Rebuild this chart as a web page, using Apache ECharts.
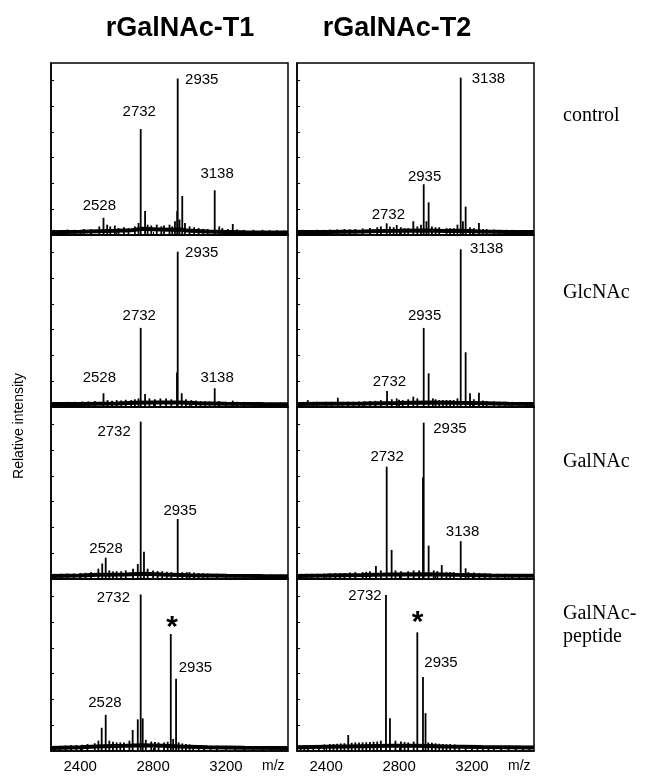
<!DOCTYPE html>
<html><head><meta charset="utf-8">
<script src="https://cdn.jsdelivr.net/npm/echarts@6/dist/echarts.min.js"></script>
<style>html,body{margin:0;padding:0;background:#fff}#c{width:648px;height:776px}</style>
</head><body><div id="c"></div>
<script>
// ---------- DATA ----------
const enzymes = ['rGalNAc-T1', 'rGalNAc-T2'];
const acceptors = ['control', 'GlcNAc', 'GalNAc', 'GalNAc-\npeptide'];
const xTicks = [2400, 2600, 2800, 3000, 3200, 3400];
const xTickLabels = [2400, 2800, 3200];
const xUnit = 'm/z';
const yTitle = 'Relative intensity';
const yTicks = [15, 30, 45, 60, 75, 90];

// Peaks [m/z, relative intensity] (panel order: row by row, T1 then T2)
const peaksT1control = [[2528,10],[2548,6],[2565,5],[2590,5.5],[2732,61.6],[2756,14],[2932,14],[2935,91],[2960,22.7],[3138,26],[3163,5],[3237,6.4]];
const noiseT1control = [[2255,3],[2290,2.8],[2330,3.2],[2370,3],[2420,3.5],[2460,3.4],[2505,5],[2610,4],[2640,4.5],[2665,4],[2700,5],[2720,7],[2770,6],[2790,5.5],[2820,6],[2845,5],[2860,5.5],[2890,6],[2905,5],[2920,8],[2945,9],[2975,7],[3000,5],[3025,4.5],[3050,4],[3075,3.6],[3100,3.5],[3180,4],[3210,3.5],[3260,3.2],[3300,3],[3350,3],[3400,3],[3440,2.8],[3480,2.8],[3520,2.6]];
const baseT1control = [[2240,1.6],[2300,1.8],[2400,1.9],[2500,2.2],[2600,2.4],[2680,2.8],[2740,3.6],[2800,3.4],[2880,3.0],[2950,3.2],[3000,2.4],[3100,2.0],[3200,1.8],[3300,1.6],[3400,1.5],[3540,1.4]];

const peaksT2control = [[2732,6.8],[2787,5.8],[2878,8],[2935,29.5],[2962,19],[3138,91.5],[3165,16.5],[3189,4.5],[3238,7]];
const noiseT2control = [[2270,3],[2310,2.8],[2350,3],[2385,3],[2420,3.2],[2460,3.2],[2500,3.5],[2530,3.3],[2560,3.5],[2600,3.8],[2640,4],[2680,4.5],[2700,5],[2750,5],[2770,4.5],[2810,4.5],[2830,4],[2850,4],[2900,5],[2920,6],[2950,8],[2980,5],[3000,4.5],[3020,4.5],[3060,4],[3080,4],[3100,4],[3120,6],[3150,8],[3210,4],[3260,3.5],[3280,3.5],[3320,3.2],[3350,3],[3390,3],[3420,3],[3460,2.8],[3500,2.8]];
const baseT2control = [[2240,1.7],[2400,1.8],[2600,2.0],[2700,2.3],[2800,2.4],[2950,2.6],[3050,2.3],[3150,2.5],[3250,2.1],[3400,1.8],[3540,1.7]];

const peaksT1GlcNAc = [[2528,8],[2732,46],[2756,7.6],[2871,5],[2931,20],[2935,90.3],[2957,8],[3138,10.9],[3162,3.5],[3237,3.7]];
const noiseT1GlcNAc = [[2260,2.8],[2295,2.8],[2330,3],[2370,3],[2410,3.2],[2445,3.2],[2480,3.5],[2550,4],[2575,3.6],[2600,4],[2625,3.8],[2650,4.2],[2680,4],[2700,4.5],[2720,5],[2780,5],[2810,4.5],[2840,5],[2900,4.5],[2980,4.5],[3010,4],[3035,3.8],[3060,3.5],[3085,3.4],[3110,3.2],[3200,3],[3260,3],[3300,3],[3350,2.8],[3400,2.8],[3450,2.6],[3500,2.6]];
const baseT1GlcNAc = [[2240,1.7],[2400,1.8],[2600,2.1],[2700,2.5],[2800,2.6],[2950,2.6],[3050,2.2],[3200,1.9],[3400,1.7],[3540,1.6]];

const peaksT2GlcNAc = [[2299,4],[2464,5.4],[2734,9.3],[2787,5],[2878,6],[2935,46],[2962,19.6],[3138,91.7],[3165,31.8],[3189,8],[3238,8.3]];
const noiseT2GlcNAc = [[2330,2.8],[2350,3],[2400,3],[2430,3],[2490,3],[2520,3],[2550,3],[2580,3.2],[2610,3.3],[2640,3.5],[2670,3.6],[2700,4],[2760,4.5],[2800,4.2],[2820,4],[2850,4.5],[2900,5],[2985,5],[3000,4.5],[3020,4],[3040,4],[3060,4],[3080,4],[3100,4],[3120,5],[3210,4.5],[3260,3.8],[3280,3.5],[3320,3.2],[3350,3],[3380,3],[3420,3],[3460,2.9],[3500,2.8]];
const baseT2GlcNAc = [[2240,1.8],[2400,1.9],[2600,2.0],[2800,2.3],[2950,2.6],[3100,2.4],[3200,2.3],[3400,1.9],[3540,1.8]];

const peaksT1GalNAc = [[2521,9],[2540,12.4],[2716,8.7],[2732,91.5],[2750,15.9],[2935,34.9],[3024,3.8]];
const noiseT1GalNAc = [[2260,3],[2295,3],[2330,3.2],[2365,3.2],[2400,3.5],[2430,3.6],[2460,4],[2500,6],[2560,5],[2580,4.4],[2600,4.5],[2625,4.5],[2650,5],[2690,6],[2770,6],[2800,5],[2825,4.6],[2850,4.5],[2875,4.2],[2900,4],[2960,4],[2985,4],[3000,4],[3050,3.5],[3075,3.4],[3100,3.2],[3150,3.1],[3200,3],[3250,2.9],[3300,2.8],[3350,2.7],[3400,2.6],[3450,2.6],[3500,2.5]];
const baseT1GalNAc = [[2240,1.7],[2400,2.0],[2500,2.4],[2650,2.6],[2740,3.0],[2850,2.6],[3000,2.2],[3200,1.9],[3400,1.7],[3540,1.6]];

const peaksT2GalNAc = [[2673,7.6],[2732,65.3],[2759,16.9],[2931,59],[2935,90.9],[2962,19.4],[3034,8.1],[3138,22],[3165,6.2]];
const noiseT2GalNAc = [[2260,3],[2290,3],[2320,3],[2355,3.1],[2390,3.2],[2420,3.3],[2450,3.5],[2475,3.4],[2500,3.5],[2530,3.8],[2560,4],[2600,4],[2620,4.2],[2640,4.5],[2700,5],[2780,5],[2810,4.5],[2850,4.5],[2880,5],[2910,5],[2990,5],[3010,4.6],[3060,4],[3080,4],[3100,4],[3180,4],[3210,3.8],[3240,3.5],[3270,3.4],[3300,3.2],[3340,3.1],[3380,3],[3420,2.9],[3460,2.8],[3500,2.8]];
const baseT2GalNAc = [[2240,1.8],[2400,2.0],[2600,2.3],[2750,2.6],[2950,2.7],[3100,2.4],[3300,2.1],[3540,1.9]];

const peaksT1peptide = [[2518,13.5],[2540,21],[2688,12.2],[2716,18.4],[2732,91],[2743,19],[2897,68],[2926,42]];
const noiseT1peptide = [[2260,3],[2290,3],[2320,3.2],[2350,3.3],[2380,3.5],[2410,3.6],[2440,4],[2480,4.5],[2500,6],[2560,6],[2580,5.4],[2600,5],[2620,5],[2640,5],[2670,6],[2760,6.5],[2790,5.5],[2810,5.2],[2830,5],[2860,5],[2880,5.4],[2910,7],[2940,5],[2960,4.4],[2980,4],[3000,3.8],[3020,3.5],[3050,3.4],[3080,3.2],[3115,3.1],[3150,3],[3200,2.9],[3250,2.8],[3300,2.7],[3350,2.6],[3400,2.6],[3450,2.5],[3500,2.5]];
const baseT1peptide = [[2240,1.8],[2400,2.2],[2520,2.8],[2650,3.0],[2740,3.4],[2850,3.0],[2950,2.6],[3100,2.2],[3300,1.9],[3540,1.7]];

const peaksT2peptide = [[2521,9.3],[2728,90.7],[2750,19],[2900,69],[2931,43],[2945,22]];
const noiseT2peptide = [[2260,3],[2280,3.1],[2300,3.2],[2330,3.3],[2360,3.5],[2390,3.8],[2420,4],[2440,4.1],[2460,4.2],[2480,4.4],[2500,4.5],[2540,4.8],[2560,5],[2580,5],[2600,5],[2620,5.1],[2640,5.2],[2660,5.4],[2680,5.5],[2700,6],[2780,6],[2810,5.5],[2830,5.2],[2850,5],[2880,5.5],[2960,5],[2980,4.8],[3000,4.5],[3020,4.2],[3040,4],[3060,4],[3080,4],[3105,3.8],[3130,3.5],[3165,3.5],[3200,3.5],[3230,3.3],[3260,3.2],[3290,3.1],[3320,3],[3360,3],[3400,3],[3440,2.9],[3480,2.8],[3515,2.8]];
const baseT2peptide = [[2240,2.2],[2400,2.5],[2600,2.8],[2750,3.0],[2900,3.0],[3050,2.6],[3250,2.3],[3540,2.1]];

// Peak annotations [m/z, intensity of text anchor, text]
const labelsT1control = [[2505,14.5,'2528'],[2724,68.8,'2732'],[2970,90.1,'2935'],[3151,33.1,'3138']];
const labelsT2control = [[2741,9.3,'2732'],[2940,31,'2935'],[3193,90.7,'3138']];
const labelsT1GlcNAc = [[2505,14.4,'2528'],[2724,50.6,'2732'],[2970,89.5,'2935'],[3151,14.4,'3138']];
const labelsT2GlcNAc = [[2747,11.8,'2732'],[2940,50.2,'2935'],[3183,91.9,'3138']];
const labelsT1GalNAc = [[2542,14.9,'2528'],[2683,85.6,'2732'],[2948,37.2,'2935']];
const labelsT2GalNAc = [[2734,68.2,'2732'],[2982,87.3,'2935'],[3148,25,'3138']];
const labelsT1peptide = [[2536,25.1,'2528'],[2679,89,'2732'],[2904,70.9,'*'],[2935,48.3,'2935']];
const labelsT2peptide = [[2710,90.1,'2732'],[2901,73.8,'*'],[2933,51,'2935']];

// ---------- ASSEMBLY ----------
const panels = [
  {peaks: peaksT1control, noise: noiseT1control, base: baseT1control, labels: labelsT1control, place: ['top','top','right','top']},
  {peaks: peaksT2control, noise: noiseT2control, base: baseT2control, labels: labelsT2control, place: ['top','top','right']},
  {peaks: peaksT1GlcNAc, noise: noiseT1GlcNAc, base: baseT1GlcNAc, labels: labelsT1GlcNAc, place: ['top','top','right','top']},
  {peaks: peaksT2GlcNAc, noise: noiseT2GlcNAc, base: baseT2GlcNAc, labels: labelsT2GlcNAc, place: ['top','top','right']},
  {peaks: peaksT1GalNAc, noise: noiseT1GalNAc, base: baseT1GalNAc, labels: labelsT1GalNAc, place: ['top','left','top']},
  {peaks: peaksT2GalNAc, noise: noiseT2GalNAc, base: baseT2GalNAc, labels: labelsT2GalNAc, place: ['top','right','top']},
  {peaks: peaksT1peptide, noise: noiseT1peptide, base: baseT1peptide, labels: labelsT1peptide, place: ['top','left','top','right']},
  {peaks: peaksT2peptide, noise: noiseT2peptide, base: baseT2peptide, labels: labelsT2peptide, place: ['left','top','right']}
];

const X_MIN = 2240, X_MAX = 3540;
const colLeft = [51, 297], panelW = 237, top0 = 63, panelH = 172;
const titleX = [180, 397];
const sideLabelY = [116, 293, 462, 625.5];
const SANS = 'Liberation Sans, Arial, sans-serif';
const SERIF = 'Liberation Serif, Times New Roman, serif';

const grids = [], xAxes = [], yAxes = [], series = [];
panels.forEach((p, i) => {
  const r = Math.floor(i / 2), c = i % 2;
  const lastRow = r === 3;
  grids.push({left: colLeft[c], top: top0 + r * panelH, width: panelW, height: panelH,
    show: true, borderColor: '#000', borderWidth: 1.5, backgroundColor: 'transparent'});
  xAxes.push({type: 'value', gridIndex: i, min: X_MIN, max: X_MAX,
    axisLine: {show: true, lineStyle: {color: '#000', width: 1.5}},
    axisTick: {show: true, inside: true, length: 3, customValues: xTicks, lineStyle: {color: '#000'}},
    axisLabel: {show: lastRow, customValues: xTickLabels, formatter: v => String(v), margin: 8,
      fontSize: 15, fontFamily: SANS, color: '#000'},
    splitLine: {show: false}});
  yAxes.push({type: 'value', gridIndex: i, min: 0, max: 100,
    axisLine: {show: true, lineStyle: {color: '#000', width: 1.5}},
    axisTick: {show: true, inside: true, length: 3, customValues: yTicks, lineStyle: {color: '#000'}},
    axisLabel: {show: false}, splitLine: {show: false}});
  series.push({type: 'line', xAxisIndex: i, yAxisIndex: i, data: p.base, symbol: 'none',
    lineStyle: {color: '#000', width: 4}, silent: true, z: 3});
  series.push({type: 'bar', xAxisIndex: i, yAxisIndex: i, data: p.peaks.concat(p.noise),
    barWidth: 1.8, itemStyle: {color: '#000'}, silent: true, z: 4});
  series.push({type: 'scatter', xAxisIndex: i, yAxisIndex: i, symbolSize: 0, silent: true, z: 5,
    itemStyle: {opacity: 1},
    data: p.labels.map((l, k) => {
      const star = l[2] === '*';
      const side = p.place[k] !== 'top';
      return {value: [l[0], l[1]], name: l[2],
        label: {show: true, formatter: l[2], position: p.place[k], distance: star ? -14 : (side ? 1 : -3),
          fontSize: star ? 30 : 15, fontWeight: star ? 'bold' : 'normal', fontFamily: SANS,
          color: '#000', opacity: 1}};
    })});
});

const graphic = [];
enzymes.forEach((t, c) => {
  graphic.push({type: 'text', x: titleX[c], y: 15,
    style: {text: t, font: 'bold 27px ' + SANS, fill: '#000', textAlign: 'center', textVerticalAlign: 'top'}});
});
acceptors.forEach((t, r) => {
  graphic.push({type: 'text', x: 563, y: sideLabelY[r],
    style: {text: t, font: '20px ' + SERIF, fill: '#000', lineHeight: 23, textVerticalAlign: 'middle'}});
});
[0, 1].forEach(c => {
  graphic.push({type: 'text', x: colLeft[c] + panelW - 26, y: top0 + 4 * panelH + 8,
    style: {text: xUnit, font: '14px ' + SANS, fill: '#000', textVerticalAlign: 'top'}});
});
graphic.push({type: 'text', x: 19, y: 426, rotation: Math.PI / 2,
  style: {text: yTitle, font: '14px ' + SANS, fill: '#000', textAlign: 'center', textVerticalAlign: 'middle'}});

const chart = echarts.init(document.getElementById('c'), null, {renderer: 'canvas'});
chart.setOption({animation: false, backgroundColor: '#fff', grid: grids, xAxis: xAxes, yAxis: yAxes, series, graphic});
</script></body></html>
